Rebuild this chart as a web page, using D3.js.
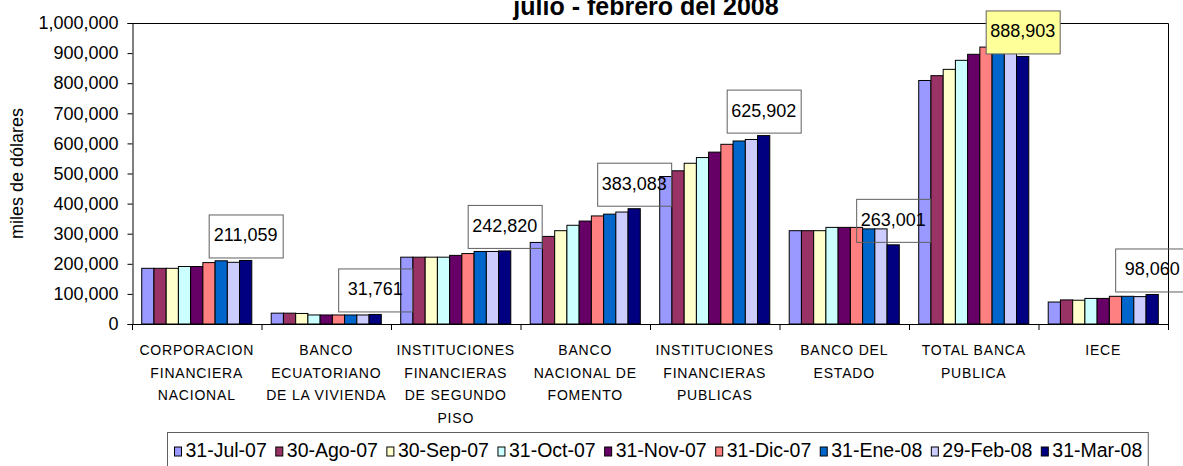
<!doctype html>
<html>
<head>
  <meta charset="utf-8">
  <title>julio - febrero del 2008</title>
  <script src="https://d3js.org/d3.v7.min.js"></script>
  <style>
    body { margin: 0; background: #fff; }
    svg { font-family: "Liberation Sans", Arial, sans-serif; }
  </style>
</head>
<body>
<svg width="1183" height="466"></svg>
<script>
// categories (tick labels, "|" = line break)
var categories = [
  "CORPORACION|FINANCIERA|NACIONAL",
  "BANCO|ECUATORIANO|DE LA VIVIENDA",
  "INSTITUCIONES|FINANCIERAS|DE SEGUNDO|PISO",
  "BANCO|NACIONAL DE|FOMENTO",
  "INSTITUCIONES|FINANCIERAS|PUBLICAS",
  "BANCO DEL|ESTADO",
  "TOTAL BANCA|PUBLICA",
  "IECE"
];

var seriesNames = ["31-Jul-07", "30-Ago-07", "30-Sep-07", "31-Oct-07", "31-Nov-07",
                   "31-Dic-07", "31-Ene-08", "29-Feb-08", "31-Mar-08"];

// miles de dolares, one array per date, in category order
var jul07 = [185000, 36000, 222000, 271000, 490000, 310000, 809000, 73000];
var ago07 = [185000, 36000, 222000, 291000, 509000, 310000, 825000, 80000];
var sep07 = [185000, 35000, 222000, 310000, 534000, 310000, 846000, 79000];
var oct07 = [191000, 30000, 222000, 328000, 553000, 321000, 876000, 85000];
var nov07 = [191000, 30000, 228000, 342000, 571000, 321000, 896000, 85000];
var dic07 = [204000, 30000, 234000, 359000, 597000, 321000, 920000, 92000];
var ene08 = [210000, 30000, 241000, 365000, 608000, 316000, 924000, 92000];
var feb08 = [205000, 30000, 241000, 372000, 613000, 316000, 929000, 91000];
var mar08 = [211059, 31761, 242820, 383083, 625902, 263001, 888903, 98060];

var yTicks = [0, 100000, 200000, 300000, 400000, 500000, 600000, 700000, 800000, 900000, 1000000];

var series = [jul07, ago07, sep07, oct07, nov07, dic07, ene08, feb08, mar08];
var colors = ["#9999FF", "#993366", "#FFFFCC", "#CCFFFF", "#660066",
              "#FF8080", "#0066CC", "#CCCCFF", "#000080"];
var highlight = "TOTAL BANCA|PUBLICA";

var svg = d3.select("svg"),
    margin = {top: 23, right: 15, bottom: 142, left: 132},
    width = 1183 - margin.left - margin.right,
    height = 466 - margin.top - margin.bottom;

var x0 = d3.scaleBand().domain(categories).range([0, width])
    .paddingInner(0.15).paddingOuter(0.075);
var x1 = d3.scaleBand().domain(d3.range(series.length)).range([0, x0.bandwidth()]);
var y = d3.scaleLinear().domain([0, 1000000]).range([height, 0]);

var fmt = d3.format(",");

// title (its first line lies above the picture)
svg.append("text")
    .attr("x", 646).attr("y", 15)
    .attr("text-anchor", "middle")
    .style("font-size", "25px").style("font-weight", "bold")
    .text("julio - febrero del 2008");

svg.append("text")
    .attr("transform", "translate(23," + (margin.top + height / 2) + ") rotate(-90)")
    .attr("text-anchor", "middle")
    .style("font-size", "18px")
    .text("miles de dólares");

var g = svg.append("g")
    .attr("transform", "translate(" + margin.left + "," + margin.top + ")");

// plot frame (top and right)
g.append("path")
    .attr("d", "M0.5,0.5H" + (width + 0.5) + "V" + height)
    .attr("fill", "none").attr("stroke", "#000");

// y axis
var yAxis = g.append("g")
    .attr("transform", "translate(0.5,0)")
    .call(d3.axisLeft(y).tickValues(yTicks).tickSize(5).tickPadding(9).tickFormat(fmt));
yAxis.selectAll("text").style("font-size", "18px").attr("fill", "#000");
yAxis.selectAll("line, path").attr("stroke", "#000");

// bars
var groups = g.selectAll(".cat")
  .data(categories)
  .enter().append("g")
    .attr("class", "cat")
    .attr("transform", function(d) { return "translate(" + x0(d) + ",0)"; });

groups.selectAll("rect")
  .data(function(d, ci) { return series.map(function(s, si) { return {si: si, v: s[ci]}; }); })
  .enter().append("rect")
    .attr("x", function(d) { return x1(d.si); })
    .attr("y", function(d) { return y(d.v); })
    .attr("width", x1.bandwidth())
    .attr("height", function(d) { return height - y(d.v); })
    .attr("fill", function(d) { return colors[d.si]; })
    .attr("stroke", "#000").attr("stroke-width", 1);

// x axis
var xa = g.append("g").attr("transform", "translate(0," + height + ")");
xa.append("line").attr("x1", 0).attr("x2", width).attr("y1", 0.5).attr("y2", 0.5).attr("stroke", "#000");
xa.selectAll(".tk")
  .data(categories.concat(["end"]))
  .enter().append("line")
    .attr("x1", function(d, i) { return i * x0.step() + 0.5; })
    .attr("x2", function(d, i) { return i * x0.step() + 0.5; })
    .attr("y1", 0).attr("y2", 6).attr("stroke", "#000");

xa.selectAll(".lbl")
  .data(categories)
  .enter().append("text")
    .attr("text-anchor", "middle")
    .style("font-size", "14px").style("letter-spacing", "0.8px")
    .each(function(d) {
      var t = d3.select(this), cx = x0(d) + x0.bandwidth() / 2;
      d.split("|").forEach(function(line, i) {
        t.append("tspan").attr("x", cx).attr("y", 31 + i * 22.5).text(line);
      });
    });

// data labels on the last date
var last = series.length - 1;
var boxW = 74, boxH = 43;
var labels = g.selectAll(".dl")
  .data(categories)
  .enter().append("g")
    .attr("transform", function(d, ci) {
      var cx = x0(d) + x1(last) + x1.bandwidth() / 2;
      return "translate(" + (cx - boxW / 2) + "," + (y(series[last][ci]) - 3 - boxH) + ")";
    });
labels.append("rect")
    .attr("x", 0.5).attr("y", 0.5)
    .attr("width", boxW).attr("height", boxH)
    .attr("fill", function(d) { return d === highlight ? "#FFFF99" : "none"; })
    .attr("stroke", "#606060");
labels.append("text")
    .attr("x", boxW / 2).attr("y", 27)
    .attr("text-anchor", "middle")
    .style("font-size", "18px")
    .text(function(d, ci) { return fmt(series[last][ci]); });

// legend
var lg = svg.append("g").attr("transform", "translate(167.5,432.5)");
var lbox = lg.append("rect").attr("height", 40)
    .attr("fill", "#fff").attr("stroke", "#606060");
var lx = 7;
seriesNames.forEach(function(name, i) {
  lg.append("rect").attr("x", lx).attr("y", 14.5).attr("width", 7).attr("height", 9)
      .attr("fill", colors[i]).attr("stroke", "#000");
  var t = lg.append("text").attr("x", lx + 11).attr("y", 24)
      .style("font-size", "19.5px").text(name);
  lx += 11 + t.node().getComputedTextLength() + 9;
});
lbox.attr("width", lx - 3);
</script>
</body>
</html>
